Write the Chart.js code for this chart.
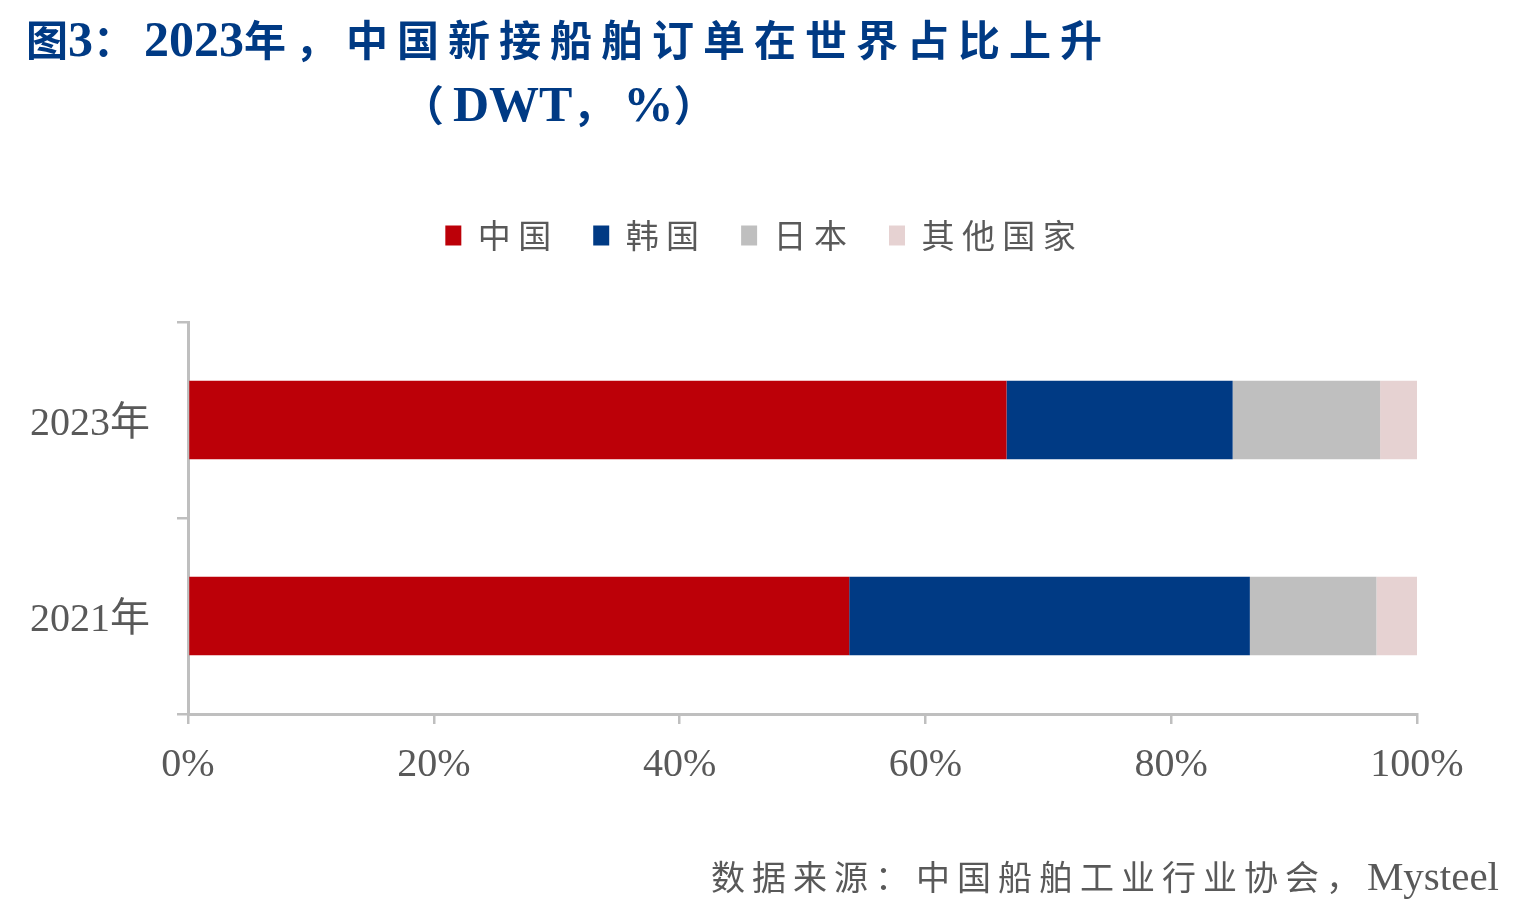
<!DOCTYPE html>
<html>
<head>
<meta charset="utf-8">
<script src="https://cdn.jsdelivr.net/npm/chart.js@4/dist/chart.umd.min.js"></script>
<style>
  body { margin: 0; background: #fff; }
  #wrap { position: relative; width: 1516px; height: 910px; }
  .title { position: absolute; color: #003a84; font-weight: bold; white-space: nowrap; line-height: 50px; height: 50px; }
  .title .cj { font-family: 'Noto Sans CJK SC'; font-size: 42px; letter-spacing: 9px; }
  .title .la { font-family: 'Liberation Serif'; font-size: 50px; letter-spacing: 0; }
  #source { position: absolute; right: 17px; top: 853px; color: #595959; white-space: nowrap; line-height: 46px; }
  #source .cj { font-family: 'Noto Sans CJK SC'; font-size: 34px; letter-spacing: 7px; }
  #source .la { font-family: 'Liberation Serif'; font-size: 41px; }
</style>
</head>
<body>
<div id="wrap">
  <div class="title" style="left:26px; top:13px;"><span class="cj" style="letter-spacing:0">图</span><span class="la">3</span><span class="cj">：</span><span class="la">2023</span><span class="cj">年，中国新接船舶订单在世界占比上升</span></div>
  <div class="title" style="left:402px; top:78px;"><span class="cj">（</span><span class="la">DWT</span><span class="cj">，</span><span class="la">%</span><span class="cj">）</span></div>
  <canvas id="chartOne"></canvas>
  <div id="source"><span class="cj">数据来源：中国船舶工业行业协会，</span><span class="la">Mysteel</span></div>
</div>
<script>
const years = ['2023年', '2021年'];
const china = [66.6, 53.8];
const korea = [18.4, 32.6];
const japan = [12.0, 10.3];
const others = [3.0, 3.3];
const xTickStep = 20;

const axisGrey = '#bfbfbf';
const labelGrey = '#595959';

// legend: extra room below it, and centred on the page rather than the plot side
const legendPlace = {
    id: 'legendPlace',
    beforeUpdate(chart) {
        const lg = chart.legend;
        if (lg && !lg._patched) {
            const fit = lg.fit;
            lg.fit = function () {
                fit.call(this);
                this.height += 60;
            };
            lg._patched = true;
        }
    },
    afterLayout(chart) {
        chart.legend.left += 52;
        chart.legend.right += 52;
    }
};

const chartOne = document.getElementById('chartOne');
let shareChart = new Chart(chartOne, {
    type: 'bar',
    data: {
        labels: years,
        datasets: [
            { label: '中 国', data: china, backgroundColor: '#bc0008' },
            { label: '韩 国', data: korea, backgroundColor: '#003a84' },
            { label: '日 本', data: japan, backgroundColor: '#bfbfbf' },
            { label: '其 他 国 家', data: others, backgroundColor: '#e6d2d2' }
        ]
    },
    options: {
        indexAxis: 'y',
        responsive: true,
        maintainAspectRatio: false,
        animation: false,
        devicePixelRatio: 1,
        barPercentage: 0.4,
        categoryPercentage: 1,
        layout: { padding: { top: 177, left: 0, right: 99, bottom: 116 } },
        plugins: {
            tooltip: { enabled: false },
            legend: {
                position: 'top',
                labels: {
                    boxWidth: 16,
                    boxHeight: 20,
                    padding: 42,
                    color: labelGrey,
                    font: { family: "'Noto Sans CJK SC'", size: 33 }
                }
            }
        },
        scales: {
            x: {
                stacked: true,
                min: 0,
                max: 100,
                ticks: {
                    stepSize: xTickStep,
                    padding: 17,
                    color: labelGrey,
                    font: { family: "'Liberation Serif'", size: 40 },
                    callback: v => v + '%'
                },
                grid: { drawOnChartArea: false, tickLength: 10, color: axisGrey, lineWidth: 2.5 },
                border: { color: axisGrey, width: 3 },
                afterFit: s => { s.height = 80; }
            },
            y: {
                stacked: true,
                ticks: {
                    padding: 27,
                    labelOffset: 4,
                    color: labelGrey,
                    font: { family: "'Liberation Serif', 'Noto Sans CJK SC'", size: 40 }
                },
                grid: { drawOnChartArea: false, offset: true, tickLength: 11, color: axisGrey, lineWidth: 2.5 },
                border: { color: axisGrey, width: 3 },
                afterFit: s => { s.width = 188; }
            }
        }
    },
    plugins: [legendPlace]
});
</script>
</body>
</html>
